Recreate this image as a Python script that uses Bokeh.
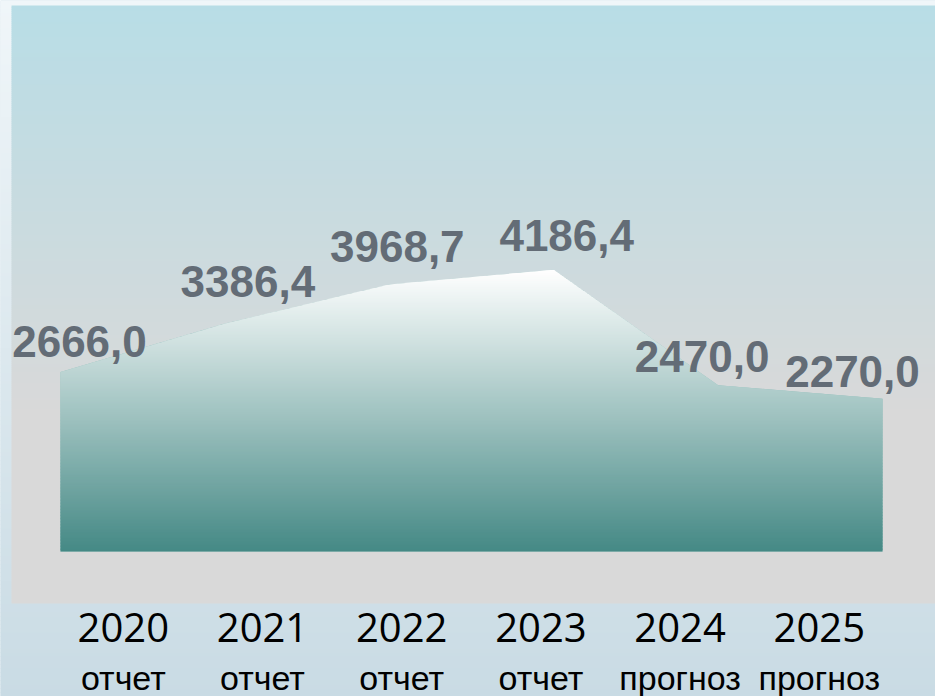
import numpy as np
from bokeh.plotting import figure
from bokeh.models import Range1d
from bokeh.core.properties import value
from bokeh.embed import file_html
from bokeh.resources import INLINE

# ---------------- data ----------------
years = ["2020", "2021", "2022", "2023", "2024", "2025"]
status = ["отчет", "отчет", "отчет", "отчет", "прогноз", "прогноз"]
values = [2666.0, 3386.4, 3968.7, 4186.4, 2470.0, 2270.0]
value_labels = ["2666,0", "3386,4", "3968,7", "4186,4", "2470,0", "2270,0"]

# ---------------- layout (figure pixels) ----------------
W, H = 935, 696
X_FIRST_PX, X_LAST_PX = 60.0, 882.0      # first / last point of the area
ZERO_PX = 551.0                           # pixel row of value 0 (from top)
PX_PER_UNIT = 0.0673
PANEL_LEFT_PX, PANEL_TOP_PX, PANEL_BOTTOM_PX = 11.0, 5.0, 603.0
LABEL0_PX, LABEL_STEP_PX = 122.8, 139.2   # category label centres
YEAR_BASE_PX, STATUS_BASE_PX = 627.0, 677.0

n = len(values)
idx = list(range(n))
step = (X_LAST_PX - X_FIRST_PX) / (n - 1)


def x_of(px):
    return (px - X_FIRST_PX) / step


def y_of(px):
    return (ZERO_PX - px) / PX_PER_UNIT


p = figure(width=W, height=H, output_backend="svg", toolbar_location=None,
           x_range=Range1d(x_of(0), x_of(W)), y_range=Range1d(y_of(H), y_of(0)),
           min_border=0, x_axis_location=None, y_axis_location=None)
p.grid.visible = False
p.outline_line_color = None
p.background_fill_color = "#d2e2ea"
p.border_fill_color = "#d2e2ea"


def hex2rgb(h):
    h = h.lstrip("#")
    return np.array([int(h[i:i + 2], 16) for i in (0, 2, 4)], float)


def rgb2hex(c):
    c = np.clip(np.round(c), 0, 255).astype(int)
    return "#%02x%02x%02x" % tuple(c)


def gradient_bands(y_start, y_stop, c_top, c_bot, g_top, g_bot, band_px=2.0):
    tops, bots, cols = [], [], []
    y = y_start
    while y < y_stop:
        y2 = min(y + band_px, y_stop)
        t = min(max(((y + y2) / 2 - g_top) / (g_bot - g_top), 0), 1)
        tops.append(y_of(y))
        bots.append(y_of(min(y2 + 0.6, y_stop)))
        cols.append(rgb2hex(c_top + (c_bot - c_top) * t))
        y = y2
    return tops, bots, cols


# ---------------- page background ----------------
t_, b_, c_ = gradient_bands(0, H, hex2rgb("#f0f6f9"), hex2rgb("#c9dbe4"), 0, H, 4.0)
p.quad(left=x_of(-2), right=x_of(W + 2), top=t_, bottom=b_, fill_color=c_, line_color=None)

# ---------------- panel background (vertical gradient) ----------------
t_, b_, c_ = gradient_bands(PANEL_TOP_PX, PANEL_BOTTOM_PX, hex2rgb("#b8dde6"),
                            hex2rgb("#d9d9d9"), PANEL_TOP_PX, 415.0)
p.quad(left=x_of(PANEL_LEFT_PX), right=x_of(W + 2), top=t_, bottom=b_,
       fill_color=c_, line_color=None)

# ---------------- area (base mark) ----------------
p.varea(x=idx, y1=0, y2=values, fill_color="#8fbcb9")

# gradient overlay of the area: horizontal bands clipped to the area polygon
poly = [(idx[0], 0.0), (idx[-1], 0.0)] + [(idx[i], values[i]) for i in reversed(idx)]


def clip(polyg, yv, keep_above):
    out = []
    m = len(polyg)
    for i in range(m):
        P, Q = polyg[i], polyg[(i + 1) % m]
        pin = P[1] >= yv if keep_above else P[1] <= yv
        qin = Q[1] >= yv if keep_above else Q[1] <= yv
        if pin:
            out.append(P)
        if pin != qin:
            t = (yv - P[1]) / (Q[1] - P[1])
            out.append((P[0] + t * (Q[0] - P[0]), yv))
    return out


vmax = max(values)
at, ab = hex2rgb("#ffffff"), hex2rgb("#458985")
nb = 190
hb = vmax / nb
xs, ys, acols = [], [], []
for k in range(nb):
    a = k * hb
    b = a + hb * 1.6
    piece = clip(clip(poly, a, True), b, False)
    if len(piece) < 3:
        continue
    t = (a + hb / 2) / vmax
    xs.append([q[0] for q in piece])
    ys.append([q[1] for q in piece])
    acols.append(rgb2hex(ab + (at - ab) * t))
p.patches(xs=xs, ys=ys, fill_color=acols, line_color=None)

# ---------------- value labels ----------------
dx = [19, 23, 8, 13, -16, -30]
dy = [-31, -42, -38, -34, -29, -27]
p.text(x=idx, y=values, text=value_labels, x_offset=dx, y_offset=dy,
       text_font=value("Liberation Sans"),
       text_font_style="bold", text_font_size="44px", text_color="#636c76",
       text_align="center", text_baseline="alphabetic")

# ---------------- category labels ----------------
label_x = [x_of(LABEL0_PX + LABEL_STEP_PX * i) for i in idx]
p.text(x=label_x, y=y_of(YEAR_BASE_PX), text=years,
       text_font=value("Open Sans"), text_font_size="40px", text_color="#000000",
       text_align="center", text_baseline="alphabetic")
p.text(x=label_x, y=y_of(STATUS_BASE_PX), text=status,
       text_font=value("Liberation Sans"),
       text_font_size="34px", text_color="#000000",
       text_align="center", text_baseline="alphabetic")

open("out.html", "w").write(file_html(p, INLINE))
